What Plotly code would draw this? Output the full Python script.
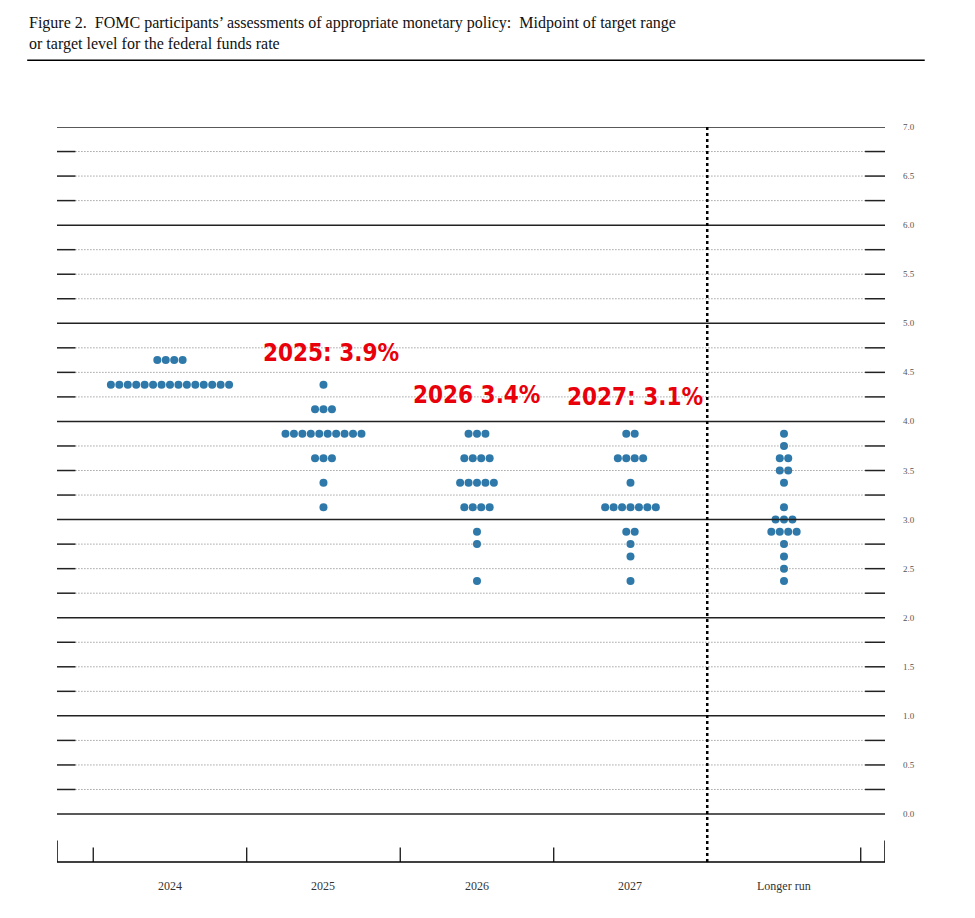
import plotly.graph_objects as go

categories = ["2024", "2025", "2026", "2027", "Longer run"]
rates_2024 = [4.625]*4 + [4.375]*15
rates_2025 = [4.375]*1 + [4.125]*3 + [3.875]*10 + [3.625]*3 + [3.375] + [3.125]
rates_2026 = [3.875]*3 + [3.625]*4 + [3.375]*5 + [3.125]*4 + [2.875, 2.75, 2.375]
rates_2027 = [3.875]*2 + [3.625]*4 + [3.375] + [3.125]*7 + [2.875]*2 + [2.75, 2.625, 2.375]
rates_lr = [3.875, 3.75, 3.625, 3.625, 3.5, 3.5, 3.375, 3.125, 3.0, 3.0, 3.0,
            2.875, 2.875, 2.875, 2.875, 2.75, 2.625, 2.5, 2.375]
all_rates = [rates_2024, rates_2025, rates_2026, rates_2027, rates_lr]
y_ticks = [0.0, 0.5, 1.0, 1.5, 2.0, 2.5, 3.0, 3.5, 4.0, 4.5, 5.0, 5.5, 6.0, 6.5, 7.0]
median_labels = ["2025: 3.9%", "2026 3.4%", "2027: 3.1%"]
median_pos = [(1.05, 4.7), (2.0, 4.27), (3.03, 4.25)]

XMIN, XMAX = -0.736, 4.658
dx = 0.055
xs, ys = [], []
for ci, rates in enumerate(all_rates):
    counts = {}
    for r in rates:
        counts[r] = counts.get(r, 0) + 1
    for r, n in counts.items():
        for i in range(n):
            xs.append(ci + (i - (n - 1) / 2) * dx)
            ys.append(r)

fig = go.Figure()
shapes = []
lvl = 0.0
while lvl <= 7.001:
    if abs(lvl - round(lvl)) < 1e-9:
        shapes.append(dict(type="line", x0=XMIN, x1=XMAX, y0=lvl, y1=lvl, line=dict(color="#222", width=1.5)))
    else:
        shapes.append(dict(type="line", x0=XMIN + 0.12, x1=XMAX - 0.13, y0=lvl, y1=lvl, line=dict(color="#777", width=1, dash="1px,2px")))
        shapes.append(dict(type="line", x0=XMIN, x1=XMIN + 0.12, y0=lvl, y1=lvl, line=dict(color="#222", width=1.5)))
        shapes.append(dict(type="line", x0=XMAX - 0.13, x1=XMAX, y0=lvl, y1=lvl, line=dict(color="#222", width=1.5)))
    lvl += 0.25
shapes.append(dict(type="line", x0=3.5, x1=3.5, y0=-0.49, y1=7.0, line=dict(color="black", width=2.5, dash="3px,3px")))
shapes.append(dict(type="line", x0=XMIN, x1=XMAX, y0=-0.49, y1=-0.49, line=dict(color="black", width=1.5)))
for tx in [-0.5, 0.5, 1.5, 2.5, 4.5]:
    shapes.append(dict(type="line", x0=tx, x1=tx, y0=-0.49, y1=-0.34, line=dict(color="black", width=1.2)))
for tx in [XMIN, XMAX]:
    shapes.append(dict(type="line", x0=tx, x1=tx, y0=-0.49, y1=-0.27, line=dict(color="black", width=1.5)))
shapes.append(dict(type="line", xref="paper", yref="paper", x0=-0.036, x1=1.048, y0=1.090, y1=1.090, line=dict(color="black", width=1.5)))

fig.add_trace(go.Scatter(x=xs, y=ys, mode="markers", marker=dict(size=8, color="#2e79a9"), hoverinfo="skip", showlegend=False, cliponaxis=False))

ann = []
for i, c in enumerate(categories):
    ann.append(dict(x=i, y=-0.036, xref="x", yref="paper", text=c, showarrow=False, font=dict(family="Liberation Serif", size=12, color="#333")))
for t in y_ticks:
    ann.append(dict(x=1.0386, y=t, xref="paper", yref="y", text=f"{t:.1f}", showarrow=False, font=dict(family="Liberation Serif", size=9, color="#555")))
ann.append(dict(x=1.0, y=7.14, xref="paper", yref="y", text="Percent", showarrow=False, xanchor="right", font=dict(family="Liberation Serif", size=12, color="#222")))
for txt, (px, py) in zip(median_labels, median_pos):
    ann.append(dict(x=px, y=py, xref="x", yref="y", text=f"<b>{txt}</b>", showarrow=False, font=dict(family="DejaVu Sans Condensed, Liberation Sans Narrow, sans-serif", size=24, color="#e8000b")))
ann.append(dict(x=-0.036, y=1.155, xref="paper", yref="paper", xanchor="left", yanchor="top", align="left",
                text="Figure 2.  FOMC participants’ assessments of appropriate monetary policy:  Midpoint of target range<br>or target level for the federal funds rate",
                showarrow=False, font=dict(family="Liberation Serif", size=16, color="#111")))

fig.update_layout(
    width=975, height=918, margin=dict(l=49, r=98, t=119, b=58),
    plot_bgcolor="white", paper_bgcolor="white",
    xaxis=dict(range=[XMIN, XMAX], visible=False),
    yaxis=dict(range=[-0.55, 7.0], visible=False),
    shapes=shapes, annotations=ann,
)
fig.write_html("out.html")
